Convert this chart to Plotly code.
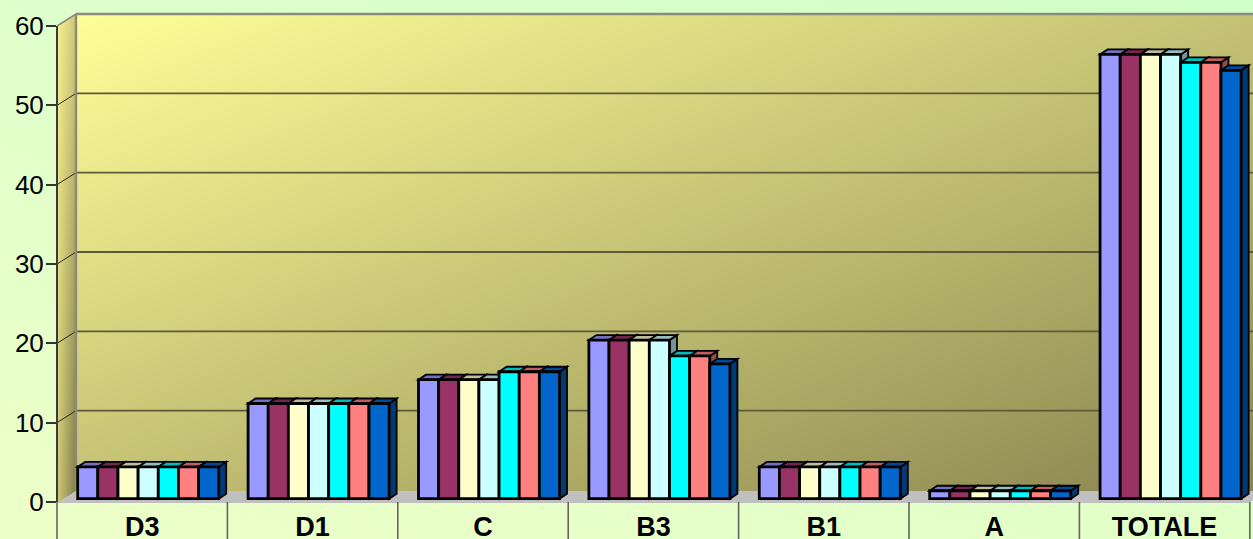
import base64, struct, zlib
import numpy as np
import plotly.graph_objects as go

categories = ["D3", "D1", "C", "B3", "B1", "A", "TOTALE"]
serie_1 = [4, 12, 15, 20, 4, 1, 56]
serie_2 = [4, 12, 15, 20, 4, 1, 56]
serie_3 = [4, 12, 15, 20, 4, 1, 56]
serie_4 = [4, 12, 15, 20, 4, 1, 56]
serie_5 = [4, 12, 16, 18, 4, 1, 55]
serie_6 = [4, 12, 16, 18, 4, 1, 55]
serie_7 = [4, 12, 16, 17, 4, 1, 54]
y_ticks = [0, 10, 20, 30, 40, 50, 60]

series = [serie_1, serie_2, serie_3, serie_4, serie_5, serie_6, serie_7]
front = [(153, 153, 255), (153, 51, 102), (255, 255, 204), (204, 255, 255),
         (0, 255, 255), (255, 128, 128), (0, 102, 204)]

W, H = 1253, 539
AX_L, AX_B = 57, 502          # front axis corner, pixels
CAT = 170.4                   # pixels per category
UNIT = 476 / 60               # pixels per value unit
WALL_DX, WALL_DY = 19, 12     # depth of the chart box
BAR_W = 20.15 / CAT
BAR_SHIFT = 6 / CAT
BAR_BASE = 3.3 / UNIT
DEPTH_X = 7.5 / CAT
DEPTH_Y = 5 / UNIT
WALL_Y = WALL_DY / UNIT
WALL_X = WALL_DX / CAT
X0 = -0.5
X1 = X0 + (W - AX_L) / CAT
Y1 = AX_B / UNIT


def background():
    yy, xx = np.mgrid[0:H, 0:W].astype(float)
    fx, fy = xx / (W - 1), yy / (H - 1)
    corners = np.array([[223, 255, 204], [209, 255, 200], [238, 255, 200], [226, 255, 200]], float)
    img = np.zeros((H, W, 3))
    for c in range(3):
        img[..., c] = (corners[0, c] * (1 - fx) * (1 - fy) + corners[1, c] * fx * (1 - fy)
                       + corners[2, c] * (1 - fx) * fy + corners[3, c] * fx * fy)
    # back wall
    t = np.clip(((xx - 76) / (W - 76) + (yy - 14) / 476) / 2, 0, 1)[..., None]
    wall = np.array([255, 255, 153.0]) * (1 - t) + np.array([138, 133, 80.0]) * t
    mask = (xx >= 76) & (yy >= 14) & (yy <= 490)
    img[mask] = wall[mask]
    # side wall
    u = np.clip((xx - AX_L) / WALL_DX, 0, 1)
    top = AX_B - 476 - WALL_DY * u
    bot = AX_B - WALL_DY * u
    v = np.clip((yy - top) / 476, 0, 1)[..., None]
    u3 = u[..., None]
    left = np.array([245, 240, 145.0]) * (1 - v) + np.array([205, 200, 118.0]) * v
    right = np.array([205, 198, 118.0]) * (1 - v) + np.array([128, 122, 72.0]) * v
    side = left * (1 - u3) + right * u3
    mask = (xx >= AX_L) & (xx < 76) & (yy >= top) & (yy <= bot)
    img[mask] = side[mask]
    # floor
    slope = WALL_DY / WALL_DX
    mask = (yy > 490) & (yy <= AX_B) & (yy >= AX_B - (xx - AX_L) * slope) \
        & (yy <= AX_B - (xx - 1249) * slope)
    img[mask] = (192, 192, 192)
    rows = np.clip(img, 0, 255).astype(np.uint8)
    raw = b"".join(b"\x00" + r.tobytes() for r in rows)

    def chunk(tag, data):
        return struct.pack(">I", len(data)) + tag + data + struct.pack(">I", zlib.crc32(tag + data) & 0xffffffff)
    png = (b"\x89PNG\r\n\x1a\n" + chunk(b"IHDR", struct.pack(">IIBBBBB", W, H, 8, 2, 0, 0, 0))
           + chunk(b"IDAT", zlib.compress(raw, 6)) + chunk(b"IEND", b""))
    return "data:image/png;base64," + base64.b64encode(png).decode()


def rgb(c, k=1.0):
    return "rgb(%d,%d,%d)" % tuple(round(v * k) for v in c)


def poly(points):
    return "M " + " L ".join(f"{x:.5f},{y:.5f}" for x, y in points) + " Z"


shapes = []
# wall gridlines
for v in y_ticks[1:-1]:
    shapes.append(dict(type="line", layer="below", xref="x", yref="y", x0=X0 + WALL_X, x1=X1,
                       y0=v + WALL_Y, y1=v + WALL_Y, line=dict(color="#5c5a38", width=1.8)))
    shapes.append(dict(type="line", layer="below", xref="x", yref="y", x0=X0, x1=X0 + WALL_X,
                       y0=v, y1=v + WALL_Y, line=dict(color="#2a2a1a", width=1)))
# wall frame
frame = "#8a8a80"
shapes.append(dict(type="line", layer="below", xref="x", yref="y", x0=X0 + WALL_X, x1=X1,
                   y0=60 + WALL_Y, y1=60 + WALL_Y, line=dict(color=frame, width=2.4)))
shapes.append(dict(type="line", layer="below", xref="x", yref="y", x0=X0 + WALL_X, x1=X0 + WALL_X,
                   y0=WALL_Y, y1=60 + WALL_Y, line=dict(color=frame, width=2.4)))
shapes.append(dict(type="line", layer="below", xref="x", yref="y", x0=X0, x1=X0 + WALL_X,
                   y0=60, y1=60 + WALL_Y, line=dict(color=frame, width=1.6)))

# depth faces of every bar, from the same values as the bars
for s, (vals, col) in enumerate(zip(series, front)):
    for i, val in enumerate(vals):
        l = i + BAR_SHIFT + (s - 3.5) * BAR_W
        r = l + BAR_W
        y = BAR_BASE + val
        shapes.append(dict(type="path", layer="below", xref="x", yref="y",
                           path=poly([(r, BAR_BASE), (r, y), (r + DEPTH_X, y + DEPTH_Y), (r + DEPTH_X, BAR_BASE + DEPTH_Y)]),
                           fillcolor=rgb(col, 0.58), line=dict(color="black", width=1.8)))
        shapes.append(dict(type="path", layer="below", xref="x", yref="y",
                           path=poly([(l, y), (r, y), (r + DEPTH_X, y + DEPTH_Y), (l + DEPTH_X, y + DEPTH_Y)]),
                           fillcolor=rgb(col, 0.74), line=dict(color="black", width=1.8)))

# front of the box: axis line, category dividers
shapes.append(dict(type="line", layer="above", xref="paper", yref="y", x0=0, x1=0, y0=0, y1=60,
                   line=dict(color="#3a3a3a", width=2)))
shapes.append(dict(type="line", layer="above", xref="paper", yref="paper", x0=0, x1=0, y0=0, y1=-37 / AX_B,
                   line=dict(color="#666660", width=1.6)))
for i in range(len(categories)):
    shapes.append(dict(type="line", layer="above", xref="x", yref="paper", x0=i + 0.5, x1=i + 0.5,
                       y0=0, y1=-37 / AX_B, line=dict(color="#666660", width=1.6)))

fig = go.Figure()
for s, (vals, col) in enumerate(zip(series, front)):
    fig.add_bar(x=list(range(len(categories))), y=vals, base=BAR_BASE, name=f"Serie {s + 1}",
                width=BAR_W, offset=BAR_SHIFT + (s - 3.5) * BAR_W,
                marker=dict(color=rgb(col), line=dict(color="black", width=2.8)))

fig.update_layout(
    width=W, height=H, autosize=False, showlegend=False, barmode="overlay",
    margin=dict(l=AX_L, r=0, t=0, b=H - AX_B, pad=0, autoexpand=False),
    paper_bgcolor="rgba(0,0,0,0)", plot_bgcolor="rgba(0,0,0,0)",
    font=dict(family="Liberation Sans", color="black"),
    images=[dict(source=background(), xref="paper", yref="paper", x=-AX_L / (W - AX_L), y=1,
                 sizex=W / (W - AX_L), sizey=H / AX_B, xanchor="left", yanchor="top",
                 sizing="stretch", layer="below")],
    shapes=shapes,
    xaxis=dict(range=[X0, X1], tickmode="array", tickvals=list(range(len(categories))),
               ticktext=[f"<b>{c}</b>" for c in categories], automargin=False,
               showgrid=False, zeroline=False, showline=False, ticks="", ticklabelstandoff=6,
               tickfont=dict(family="Liberation Sans", size=27, color="black")),
    yaxis=dict(range=[0, Y1], tickmode="array", tickvals=y_ticks, showgrid=False, zeroline=False, showline=False,
               automargin=False, ticks="outside", ticklen=10, tickwidth=1.5, tickcolor="#333333",
               ticklabelstandoff=-3,
               tickfont=dict(family="Liberation Sans", size=26, color="black")),
)

fig.write_html("out.html", config=dict(displayModeBar=False),
               post_script="document.body.style.margin='0';document.documentElement.style.overflow='hidden';")
